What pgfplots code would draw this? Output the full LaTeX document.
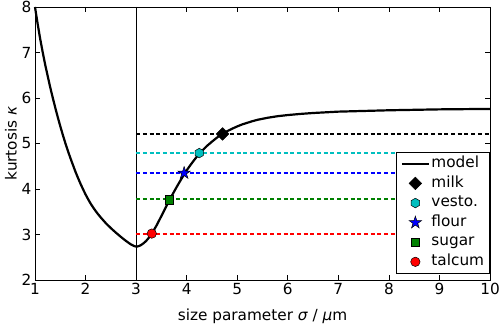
\documentclass[border=0pt]{standalone}
\usepackage{fontspec}
\setmainfont{DejaVu Sans}
\usepackage{pgfplots}
\pgfplotsset{compat=1.18}
\usetikzlibrary{plotmarks}
\definecolor{kcyan}{rgb}{0,0.75,0.75}
\definecolor{kgreen}{rgb}{0,0.5,0}
\definecolor{kblue}{rgb}{0,0,1}
\definecolor{kred}{rgb}{1,0,0}
\pgfdeclareplotmark{hexagon*}{%
 \pgfpathmoveto{\pgfpointpolar{90}{\pgfplotmarksize}}%
 \pgfpathlineto{\pgfpointpolar{150}{\pgfplotmarksize}}%
 \pgfpathlineto{\pgfpointpolar{210}{\pgfplotmarksize}}%
 \pgfpathlineto{\pgfpointpolar{270}{\pgfplotmarksize}}%
 \pgfpathlineto{\pgfpointpolar{330}{\pgfplotmarksize}}%
 \pgfpathlineto{\pgfpointpolar{30}{\pgfplotmarksize}}%
 \pgfpathclose\pgfusepathqfillstroke}
\pgfdeclareplotmark{mpldiamond*}{%
 \pgfpathmoveto{\pgfpointpolar{90}{\pgfplotmarksize}}%
 \pgfpathlineto{\pgfpointpolar{0}{\pgfplotmarksize}}%
 \pgfpathlineto{\pgfpointpolar{270}{\pgfplotmarksize}}%
 \pgfpathlineto{\pgfpointpolar{180}{\pgfplotmarksize}}%
 \pgfpathclose\pgfusepathqfillstroke}
\pgfdeclareplotmark{mplstar*}{%
 \pgfpathmoveto{\pgfpointpolar{90}{\pgfplotmarksize}}%
 \pgfpathlineto{\pgfpointpolar{126}{0.38\pgfplotmarksize}}%
 \pgfpathlineto{\pgfpointpolar{162}{\pgfplotmarksize}}%
 \pgfpathlineto{\pgfpointpolar{198}{0.38\pgfplotmarksize}}%
 \pgfpathlineto{\pgfpointpolar{234}{\pgfplotmarksize}}%
 \pgfpathlineto{\pgfpointpolar{270}{0.38\pgfplotmarksize}}%
 \pgfpathlineto{\pgfpointpolar{306}{\pgfplotmarksize}}%
 \pgfpathlineto{\pgfpointpolar{342}{0.38\pgfplotmarksize}}%
 \pgfpathlineto{\pgfpointpolar{18}{\pgfplotmarksize}}%
 \pgfpathlineto{\pgfpointpolar{54}{0.38\pgfplotmarksize}}%
 \pgfpathclose\pgfusepathqfillstroke}
\pgfplotsset{mkleg/.style={legend image code/.code={\draw[mark repeat=2,mark phase=2,##1] plot coordinates {(0pt,0pt)(13.5pt,0pt)(27pt,0pt)};}},
  refline/.style={draw=#1, color=#1, line width=2pt, dash pattern=on 4pt off 2.7pt, forget plot}}
\begin{document}
\begin{tikzpicture}
\begin{axis}[name=ax,
  scale only axis, width=455pt, height=273pt,
  xmin=1, xmax=10, ymin=2, ymax=8,
  xtick={1,...,10}, ytick={2,...,8},
  tick align=inside, major tick length=5pt,
  tick style={black, line width=0.6pt},
  axis line style={line width=0.8pt},
  /pgf/number format/assume math mode=true,
  tick label style={font=\fontsize{15.3}{18}\selectfont},
  label style={font=\fontsize{15.3}{18}\selectfont},
  xlabel={size parameter {\itshape σ} / {\itshape μ}m},
  ylabel={kurtosis {\itshape κ}},
  xlabel style={yshift=-7pt},
  ylabel style={yshift=-2pt},
  legend style={at={(rel axis cs:1,0.022)}, anchor=south east,
    font=\fontsize{15.3}{18}\selectfont, draw=black, line width=0.8pt,
    row sep=2.1pt, inner xsep=4pt, inner ysep=3pt, nodes={inner sep=1.5pt, text height=11pt, text depth=3.5pt}},
  legend cell align=left,
  legend image code/.code={\draw[#1] (0pt,0pt) -- (27pt,0pt);},
  clip=false,
]
\addplot[black, line width=2.2pt, line join=round, forget plot] coordinates {
(1.0,8.0)(1.05,7.645)(1.1,7.315)(1.15,7.02)(1.2,6.74)(1.25,6.49)(1.3,6.24)(1.35,6.01)(1.4,5.79)(1.45,5.58)(1.5,5.38)(1.55,5.19)(1.6,5.01)(1.65,4.84)(1.7,4.68)(1.75,4.53)(1.8,4.38)(1.85,4.245)(1.9,4.115)(1.95,3.995)(2.0,3.88)(2.05,3.777)(2.1,3.68)(2.15,3.595)(2.2,3.515)(2.25,3.443)(2.3,3.375)(2.4,3.25)(2.5,3.14)(2.6,3.04)(2.7,2.946)(2.8,2.858)(2.85,2.818)(2.9,2.78)(2.95,2.752)(2.98,2.740)(3.0,2.735)
(3.03,2.738)(3.06,2.748)(3.1,2.77)(3.15,2.81)(3.2,2.86)(3.25,2.927)(3.3,3.005)(3.35,3.095)(3.4,3.19)(3.5,3.405)(3.6,3.625)(3.7,3.84)(3.8,4.04)(3.9,4.23)(4.0,4.41)(4.1,4.565)(4.2,4.71)(4.3,4.835)(4.4,4.945)(4.5,5.04)(4.6,5.13)(4.7,5.205)(4.8,5.27)(4.9,5.325)(5.0,5.375)(5.1,5.42)(5.2,5.455)(5.3,5.49)(5.4,5.52)(5.6,5.565)(5.8,5.60)(6.0,5.625)(6.25,5.65)(6.5,5.67)(7.0,5.70)(7.5,5.715)(8.0,5.73)(8.5,5.74)(9.0,5.75)(9.5,5.755)(10,5.76)};
\addplot[black, line width=0.8pt, forget plot] coordinates {(3,2) (3,8)};
\addplot[refline=kred] coordinates {(3,3.02) (10,3.02)};
\addplot[refline=kgreen] coordinates {(3,3.77) (10,3.77)};
\addplot[refline=kblue] coordinates {(3,4.35) (10,4.35)};
\addplot[refline=kcyan] coordinates {(3,4.79) (10,4.79)};
\addplot[refline=black] coordinates {(3,5.21) (10,5.21)};
\addlegendimage{black, line width=2.2pt}
\addlegendentry{model}
\addplot[only marks, mkleg, mark=mpldiamond*, mark size=6.3pt, mark options={fill=black, draw=black, line width=0.5pt}] coordinates {(4.71,5.21)};
\addlegendentry{milk}
\addplot[only marks, mkleg, mark=hexagon*, mark size=4.8pt, mark options={fill=kcyan, draw=black, line width=0.5pt}] coordinates {(4.25,4.79)};
\addlegendentry{vesto.}
\addplot[only marks, mkleg, mark=mplstar*, mark size=6.5pt, mark options={fill=kblue, draw=black, line width=0.5pt}] coordinates {(3.95,4.35)};
\addlegendentry{flour}
\addplot[only marks, mkleg, mark=square*, mark size=4.3pt, mark options={fill=kgreen, draw=black, line width=0.5pt}] coordinates {(3.655,3.77)};
\addlegendentry{sugar}
\addplot[only marks, mkleg, mark=*, mark size=4.7pt, mark options={fill=kred, draw=black, line width=0.5pt}] coordinates {(3.31,3.02)};
\addlegendentry{talcum}
\end{axis}
\pgfresetboundingbox
\path ([xshift=-35pt,yshift=-46pt]ax.south west) rectangle ([xshift=10pt,yshift=7pt]ax.north east);
\end{tikzpicture}
\end{document}
